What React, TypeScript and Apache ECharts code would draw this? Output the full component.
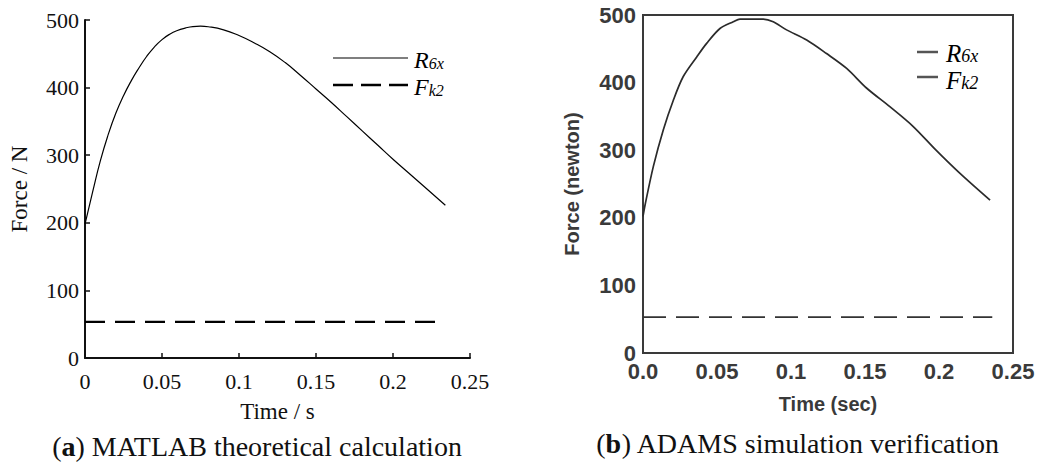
import React, { useEffect, useRef } from "react";
import * as echarts from "echarts";

// Shared axis ticks
const xTicks = [0, 0.05, 0.1, 0.15, 0.2, 0.25];
const xLabelsA = ["0", "0.05", "0.1", "0.15", "0.2", "0.25"];
const xLabelsB = ["0.0", "0.05", "0.1", "0.15", "0.2", "0.25"];
const yTicks = [0, 100, 200, 300, 400, 500];

// (a) MATLAB theoretical calculation
const timeA = [0, 0.005, 0.01, 0.015, 0.02, 0.025, 0.03, 0.035, 0.04, 0.045, 0.05, 0.055, 0.06, 0.065, 0.07, 0.075, 0.08, 0.09, 0.1, 0.11, 0.12, 0.13, 0.14, 0.15, 0.16, 0.17, 0.18, 0.19, 0.2, 0.21, 0.22, 0.234];
const r6xA = [198, 246, 292, 330, 362, 388, 410, 429, 446, 460, 471, 479, 484.5, 488, 490.3, 490.8, 490, 485.5, 477, 466, 453, 437, 418, 398, 378, 357, 336, 315, 294, 274, 254, 226];
const fk2TimeA = [0, 0.2305];
const fk2A = [53.5, 53.5];

// (b) ADAMS simulation verification
const timeB = [0, 0.0014, 0.007, 0.0137, 0.0205, 0.0272, 0.0363, 0.043, 0.052, 0.061, 0.0655, 0.0813, 0.088, 0.097, 0.1106, 0.124, 0.1376, 0.151, 0.167, 0.1826, 0.198, 0.214, 0.2345];
const r6xB = [202, 219, 276, 330, 374, 409, 438, 458, 480, 490, 494, 494, 490, 478, 463, 443, 421, 392, 364, 335, 300, 266, 226];
const fk2TimeB = [0, 0.236];
const fk2B = [53, 53];

const pairs = (t: number[], v: number[]) => t.map((x, i) => [x, v[i]]);

const SERIF = "'Liberation Serif', 'Times New Roman', serif";
const SANS = "'Liberation Sans', Arial, sans-serif";

const labelFor = (labels: string[]) => (v: number) => {
  const i = xTicks.findIndex((t) => Math.abs(t - v) < 1e-9);
  return i >= 0 ? labels[i] : "";
};

// italic symbol with a lowered subscript
const legendRich = (size: number, sub: number) => ({
  r: { fontFamily: SERIF, fontStyle: "italic", fontSize: size, lineHeight: size - 2, color: "#000" },
  s: { fontFamily: SERIF, fontStyle: "italic", fontSize: sub, lineHeight: sub - 5, verticalAlign: "bottom", color: "#000" },
});

export default function App() {
  const ref = useRef<HTMLDivElement>(null);

  useEffect(() => {
    if (!ref.current) return;
    const chart = echarts.init(ref.current, undefined, { renderer: "svg" });

    const option: any = {
      animation: false,
      backgroundColor: "#fff",
      grid: [
        { left: 85, top: 20, width: 385, height: 338, containLabel: false },
        { left: 643, top: 15, width: 370, height: 338, show: true, borderColor: "#3a3a3a", borderWidth: 2, backgroundColor: "transparent" },
      ],
      xAxis: [
        {
          gridIndex: 0, type: "value", min: 0, max: 0.25, interval: 0.05,
          axisLine: { show: true, lineStyle: { color: "#111", width: 2 } },
          axisTick: { show: true, inside: true, length: 5, lineStyle: { color: "#111", width: 1.5 } },
          axisLabel: { fontFamily: SERIF, fontSize: 22, color: "#111", margin: 12, formatter: labelFor(xLabelsA), showMaxLabel: true },
          splitLine: { show: false },
          name: "Time / s", nameLocation: "middle", nameGap: 42,
          nameTextStyle: { fontFamily: SERIF, fontSize: 23, color: "#111" },
        },
        {
          gridIndex: 1, type: "value", min: 0, max: 0.25, interval: 0.05,
          axisLine: { show: true, lineStyle: { color: "#3a3a3a", width: 2 } },
          axisTick: { show: false },
          axisLabel: { fontFamily: SANS, fontWeight: "bold", fontSize: 22, color: "#3a3a3a", margin: 7, formatter: labelFor(xLabelsB), showMaxLabel: true },
          splitLine: { show: false },
          name: "Time (sec)", nameLocation: "middle", nameGap: 41,
          nameTextStyle: { fontFamily: SANS, fontWeight: "bold", fontSize: 20, color: "#3a3a3a" },
        },
      ],
      yAxis: [
        {
          gridIndex: 0, type: "value", min: yTicks[0], max: yTicks[yTicks.length - 1], interval: 100,
          axisLine: { show: true, lineStyle: { color: "#111", width: 2 } },
          axisTick: { show: true, inside: true, length: 5, lineStyle: { color: "#111", width: 1.5 } },
          axisLabel: { fontFamily: SERIF, fontSize: 22, color: "#111", margin: 6 },
          splitLine: { show: false },
          name: "Force / N", nameLocation: "middle", nameGap: 54,
          nameTextStyle: { fontFamily: SERIF, fontSize: 23, color: "#111" },
        },
        {
          gridIndex: 1, type: "value", min: yTicks[0], max: yTicks[yTicks.length - 1], interval: 100,
          axisLine: { show: true, lineStyle: { color: "#3a3a3a", width: 2 } },
          axisTick: { show: false },
          axisLabel: { fontFamily: SANS, fontWeight: "bold", fontSize: 22, color: "#3a3a3a", margin: 7 },
          splitLine: { show: false },
          name: "Force (newton)", nameLocation: "middle", nameGap: 61,
          nameTextStyle: { fontFamily: SANS, fontWeight: "bold", fontSize: 20, color: "#3a3a3a" },
        },
      ],
      series: [
        {
          name: "R6x (a)", type: "line", xAxisIndex: 0, yAxisIndex: 0, data: pairs(timeA, r6xA),
          smooth: 0.5, showSymbol: false, silent: true,
          lineStyle: { color: "#000", width: 1.2 },
        },
        {
          name: "Fk2 (a)", type: "line", xAxisIndex: 0, yAxisIndex: 0, data: pairs(fk2TimeA, fk2A),
          showSymbol: false, silent: true,
          lineStyle: { color: "#000", width: 2.4, type: [20, 10] },
        },
        {
          name: "R6x (b)", type: "line", xAxisIndex: 1, yAxisIndex: 1, data: pairs(timeB, r6xB),
          smooth: 0.3, showSymbol: false, silent: true,
          lineStyle: { color: "#2b2b2b", width: 1.7 },
        },
        {
          name: "Fk2 (b)", type: "line", xAxisIndex: 1, yAxisIndex: 1, data: pairs(fk2TimeB, fk2B),
          showSymbol: false, silent: true,
          lineStyle: { color: "#333", width: 1.6, type: [23, 10] },
        },
      ],
      graphic: [
        // legend, panel (a)
        { type: "line", shape: { x1: 333, y1: 58, x2: 408, y2: 58 }, style: { stroke: "#000", lineWidth: 1.2 } },
        { type: "line", shape: { x1: 333, y1: 85, x2: 408, y2: 85 }, style: { stroke: "#000", lineWidth: 2.4, lineDash: [20, 8] } },
        { type: "text", x: 414, y: 60, style: { text: "{r|R}{s|6x}", rich: legendRich(24, 16), verticalAlign: "middle", align: "left" } },
        { type: "text", x: 414, y: 87, style: { text: "{r|F}{s|k2}", rich: legendRich(24, 16), verticalAlign: "middle", align: "left" } },
        // legend, panel (b)
        { type: "line", shape: { x1: 917, y1: 52, x2: 938, y2: 52 }, style: { stroke: "#555", lineWidth: 2.5 } },
        { type: "line", shape: { x1: 917, y1: 77, x2: 938, y2: 77 }, style: { stroke: "#555", lineWidth: 2.5 } },
        { type: "text", x: 946, y: 53, style: { text: "{r|R}{s|6x}", rich: legendRich(25, 18), verticalAlign: "middle", align: "left" } },
        { type: "text", x: 946, y: 80, style: { text: "{r|F}{s|k2}", rich: legendRich(25, 18), verticalAlign: "middle", align: "left" } },
        // captions
        {
          type: "text", x: 257, y: 446,
          style: {
            text: "({b|a}) MATLAB theoretical calculation",
            fontFamily: SERIF, fontSize: 28, fill: "#111", align: "center", verticalAlign: "middle",
            rich: { b: { fontFamily: SERIF, fontSize: 28, fontWeight: "bold", color: "#111" } },
          },
        },
        {
          type: "text", x: 798, y: 443,
          style: {
            text: "({b|b}) ADAMS simulation verification",
            fontFamily: SERIF, fontSize: 28, fill: "#111", align: "center", verticalAlign: "middle",
            rich: { b: { fontFamily: SERIF, fontSize: 28, fontWeight: "bold", color: "#111" } },
          },
        },
      ],
    };

    chart.setOption(option);
    return () => chart.dispose();
  }, []);

  return (
    <div
      ref={ref}
      style={{ position: "fixed", left: 0, top: 0, width: 1040, height: 464, background: "#fff" }}
    />
  );
}
